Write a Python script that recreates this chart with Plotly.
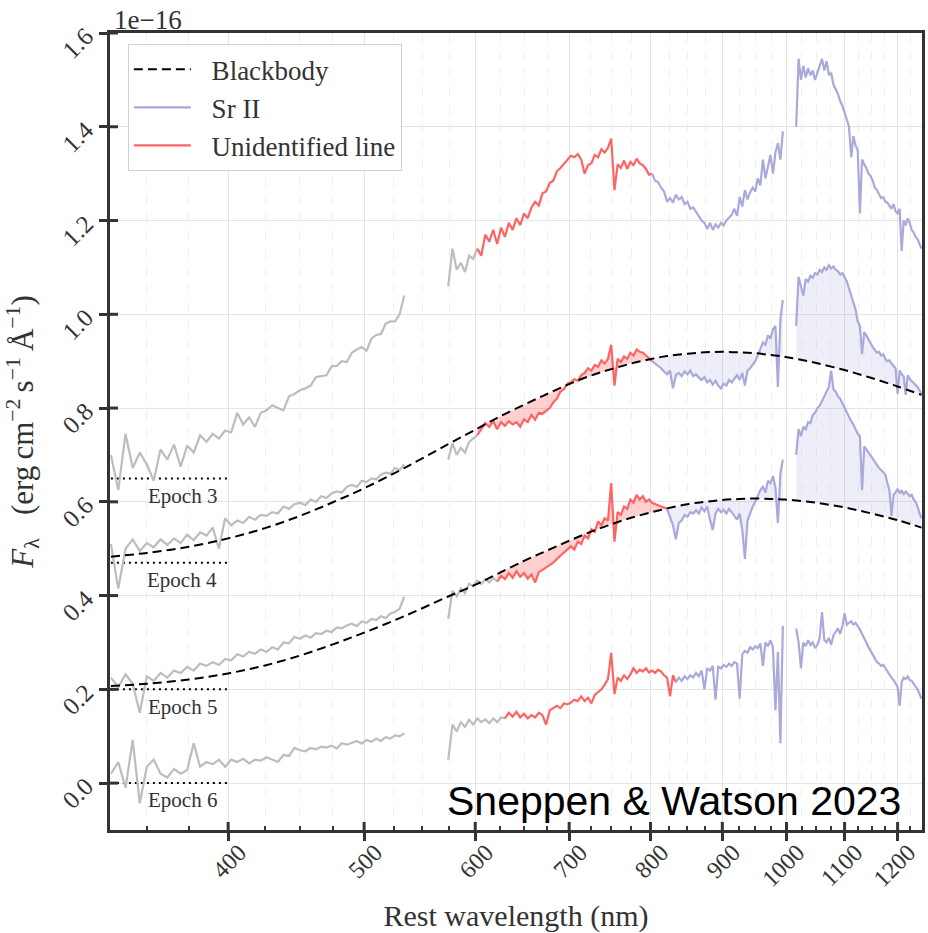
import math
import plotly.graph_objects as go

# ---------------- data ----------------
STEP = 4                      # nm sampling of the spectra
UV_START, VIS_START, IR_START = 330, 574, 1016

EPOCH_NAMES = ["Epoch 3", "Epoch 4", "Epoch 5", "Epoch 6"]
EPOCH_BASE = [0.65, 0.47, 0.20, 0.00]          # dotted zero levels (offsets)
RED_START = [600, 600, 620, 630]               # start of "unidentified line" region
RED_END = [800, 800, 821, 831]                 # start of Sr II region
DOTTED_WL = [330, 400]
LABEL_WL = 371

# Epoch 3
E3_UV = [0.700, 0.625, 0.745, 0.672, 0.705, 0.680, 0.645, 0.712, 0.690, 0.722, 0.675, 0.720,
         0.705, 0.742, 0.728, 0.745, 0.735, 0.752, 0.748, 0.790, 0.765, 0.780, 0.760, 0.790,
         0.795, 0.806, 0.800, 0.795, 0.825, 0.830, 0.838, 0.842, 0.848, 0.866, 0.868, 0.870,
         0.889, 0.890, 0.900, 0.898, 0.918, 0.925, 0.930, 0.922, 0.948, 0.956, 0.958, 0.980,
         0.985, 0.985, 1.000, 1.040]
E3_VIS = [1.060, 1.140, 1.095, 1.110, 1.090, 1.125, 1.118,
          1.140, 1.125, 1.170, 1.155, 1.180, 1.150, 1.185, 1.165, 1.195, 1.180, 1.205, 1.190, 1.215,
          1.205, 1.228, 1.240, 1.232, 1.258, 1.262, 1.280, 1.285, 1.305, 1.312, 1.320, 1.330,
          1.338, 1.335, 1.342, 1.330, 1.300, 1.318, 1.322, 1.340, 1.335, 1.352, 1.345, 1.355, 1.375,
          1.265, 1.320, 1.312, 1.328, 1.310, 1.325, 1.318, 1.332, 1.322, 1.318, 1.310, 1.298,
          1.300, 1.285, 1.282, 1.270, 1.262, 1.240, 1.248, 1.238, 1.255, 1.245, 1.250, 1.235, 1.240,
          1.225, 1.228, 1.218, 1.210, 1.200, 1.195, 1.182, 1.195, 1.180, 1.192, 1.185, 1.195,
          1.190, 1.200, 1.205, 1.212, 1.225, 1.210, 1.250, 1.230, 1.265, 1.245, 1.260, 1.270,
          1.262, 1.290, 1.275, 1.330, 1.290, 1.315, 1.340, 1.300, 1.345, 1.365, 1.330, 1.390]
E3_IR = [1.400, 1.545, 1.500, 1.530, 1.505, 1.525, 1.510, 1.520, 1.500,
         1.515, 1.530, 1.545, 1.520, 1.540, 1.510, 1.515, 1.490, 1.480, 1.470, 1.455, 1.445, 1.430,
         1.415, 1.400, 1.335, 1.380, 1.360, 1.350, 1.215, 1.330, 1.320, 1.312, 1.300, 1.295,
         1.285, 1.270, 1.265, 1.255, 1.248, 1.250, 1.240, 1.238, 1.232, 1.225, 1.235, 1.220, 1.215,
         1.225, 1.135, 1.200, 1.190, 1.205, 1.195, 1.180, 1.175, 1.165, 1.160, 1.150, 1.140]

# Epoch 4
E4_UV = [0.510, 0.415, 0.500, 0.520, 0.495, 0.512, 0.503, 0.520, 0.508, 0.522, 0.512, 0.530,
         0.518, 0.535, 0.528, 0.545, 0.500, 0.565, 0.550, 0.560, 0.555, 0.568, 0.562, 0.572,
         0.570, 0.578, 0.575, 0.590, 0.585, 0.595, 0.598, 0.593, 0.605, 0.600, 0.612, 0.608,
         0.618, 0.622, 0.620, 0.632, 0.636, 0.632, 0.645, 0.642, 0.650, 0.648, 0.658, 0.662,
         0.660, 0.672, 0.668, 0.680]
E4_VIS = [0.690, 0.725, 0.700, 0.715, 0.705, 0.728, 0.735,
          0.742, 0.755, 0.768, 0.760, 0.772, 0.755, 0.770, 0.762, 0.772, 0.765, 0.770, 0.760, 0.776,
          0.770, 0.785, 0.775, 0.790, 0.788, 0.795, 0.800, 0.812, 0.820, 0.835, 0.840, 0.852,
          0.855, 0.862, 0.858, 0.870, 0.875, 0.885, 0.880, 0.892, 0.888, 0.902, 0.895, 0.905, 0.935,
          0.848, 0.905, 0.898, 0.910, 0.905, 0.918, 0.912, 0.925, 0.920, 0.918, 0.912, 0.905,
          0.900, 0.895, 0.890, 0.885, 0.878, 0.872, 0.880, 0.842, 0.870, 0.875, 0.868, 0.878, 0.872,
          0.880, 0.868, 0.872, 0.865, 0.860, 0.866, 0.855, 0.860, 0.850, 0.858, 0.848, 0.842,
          0.852, 0.848, 0.860, 0.855, 0.862, 0.870, 0.860, 0.875, 0.848, 0.880, 0.885, 0.892,
          0.900, 0.912, 0.925, 0.940, 0.935, 0.955, 0.948, 0.968, 0.975, 0.845, 0.990, 1.030]
E4_IR = [0.975, 1.080, 1.060, 1.040, 1.075, 1.070, 1.082, 1.078, 1.088,
         1.085, 1.095, 1.090, 1.100, 1.095, 1.105, 1.098, 1.102, 1.095, 1.092, 1.085, 1.088, 1.078,
         1.070, 1.055, 1.040, 1.025, 1.010, 0.985, 0.975, 0.915, 0.962, 0.955, 0.945, 0.938,
         0.930, 0.925, 0.918, 0.920, 0.912, 0.915, 0.905, 0.900, 0.902, 0.895, 0.890, 0.885, 0.830,
         0.880, 0.872, 0.868, 0.828, 0.870, 0.862, 0.858, 0.855, 0.850, 0.845, 0.838, 0.830]

# Epoch 5
E5_UV = [0.225, 0.205, 0.232, 0.212, 0.150, 0.228, 0.218, 0.235, 0.225, 0.240, 0.235, 0.248,
         0.240, 0.255, 0.250, 0.258, 0.252, 0.265, 0.262, 0.275, 0.270, 0.280, 0.276, 0.285,
         0.280, 0.290, 0.285, 0.300, 0.298, 0.312, 0.308, 0.315, 0.310, 0.320, 0.318, 0.325,
         0.322, 0.332, 0.330, 0.336, 0.340, 0.335, 0.345, 0.342, 0.350, 0.348, 0.356, 0.352,
         0.362, 0.365, 0.372, 0.398]
E5_VIS = [0.350, 0.410, 0.398, 0.415, 0.405, 0.425, 0.420,
          0.432, 0.425, 0.435, 0.428, 0.438, 0.430, 0.442, 0.435, 0.448, 0.438, 0.452, 0.440, 0.448,
          0.436, 0.445, 0.428, 0.450, 0.455, 0.460, 0.465, 0.470, 0.478, 0.485, 0.492, 0.498,
          0.505, 0.498, 0.515, 0.510, 0.528, 0.522, 0.542, 0.536, 0.558, 0.550, 0.565, 0.560, 0.640,
          0.515, 0.578, 0.572, 0.590, 0.585, 0.605, 0.598, 0.615, 0.605, 0.612, 0.600, 0.605,
          0.598, 0.595, 0.592, 0.590, 0.588, 0.585, 0.565, 0.550, 0.520, 0.555, 0.560, 0.572, 0.568,
          0.578, 0.575, 0.582, 0.575, 0.588, 0.580, 0.590, 0.562, 0.540, 0.575, 0.585, 0.578,
          0.583, 0.575, 0.585, 0.578, 0.570, 0.562, 0.575, 0.540, 0.478, 0.560, 0.575, 0.590,
          0.600, 0.612, 0.625, 0.632, 0.620, 0.645, 0.640, 0.655, 0.630, 0.555, 0.660, 0.690]
E5_IR = [0.700, 0.755, 0.740, 0.760, 0.755, 0.770, 0.768, 0.785, 0.790,
         0.800, 0.805, 0.815, 0.822, 0.835, 0.845, 0.880, 0.840, 0.835, 0.825, 0.820, 0.810, 0.800,
         0.792, 0.780, 0.772, 0.765, 0.755, 0.745, 0.740, 0.625, 0.718, 0.712, 0.705, 0.698,
         0.692, 0.685, 0.678, 0.672, 0.668, 0.662, 0.658, 0.640, 0.625, 0.570, 0.615, 0.620, 0.628,
         0.618, 0.625, 0.615, 0.622, 0.618, 0.612, 0.615, 0.605, 0.600, 0.590, 0.575, 0.565]

# Epoch 6
E6_UV = [0.020, 0.045, -0.010, 0.092, -0.043, 0.035, 0.050, 0.020, 0.012, 0.030, 0.020, 0.028,
         0.085, 0.035, 0.045, 0.040, 0.050, 0.035, 0.050, 0.045, 0.052, 0.042, 0.050, 0.048,
         0.055, 0.050, 0.045, 0.060, 0.058, 0.075, 0.070, 0.068, 0.075, 0.072, 0.078, 0.076,
         0.080, 0.074, 0.085, 0.082, 0.086, 0.090, 0.084, 0.092, 0.088, 0.095, 0.090, 0.098,
         0.095, 0.102, 0.100, 0.106]
E6_VIS = [0.050, 0.125, 0.110, 0.130, 0.120, 0.135, 0.125,
          0.138, 0.130, 0.136, 0.128, 0.138, 0.130, 0.140, 0.138, 0.150, 0.142, 0.152, 0.140, 0.148,
          0.138, 0.145, 0.140, 0.150, 0.145, 0.125, 0.155, 0.160, 0.165, 0.160, 0.170, 0.168,
          0.172, 0.178, 0.175, 0.185, 0.175, 0.182, 0.170, 0.188, 0.195, 0.200, 0.210, 0.222, 0.278,
          0.190, 0.225, 0.218, 0.230, 0.222, 0.232, 0.245, 0.235, 0.242, 0.238, 0.245, 0.236,
          0.240, 0.235, 0.242, 0.238, 0.230, 0.225, 0.185, 0.230, 0.215, 0.225, 0.218, 0.228, 0.222,
          0.230, 0.225, 0.235, 0.228, 0.240, 0.200, 0.245, 0.240, 0.250, 0.178, 0.248, 0.245,
          0.252, 0.248, 0.255, 0.250, 0.258, 0.255, 0.180, 0.275, 0.282, 0.278, 0.290, 0.285,
          0.292, 0.288, 0.298, 0.250, 0.300, 0.292, 0.305, 0.290, 0.155, 0.280, 0.085, 0.335]
E6_IR = [0.330, 0.300, 0.245, 0.300, 0.292, 0.305, 0.295, 0.300, 0.288,
         0.295, 0.310, 0.365, 0.305, 0.300, 0.310, 0.295, 0.315, 0.322, 0.330, 0.318, 0.335, 0.362,
         0.338, 0.342, 0.345, 0.338, 0.342, 0.335, 0.328, 0.318, 0.310, 0.300, 0.290, 0.282,
         0.275, 0.265, 0.258, 0.255, 0.250, 0.252, 0.245, 0.238, 0.230, 0.225, 0.220, 0.212, 0.205,
         0.165, 0.215, 0.225, 0.222, 0.228, 0.220, 0.218, 0.212, 0.208, 0.200, 0.190, 0.180]

# Blackbody curves (epochs 4 and 5)
BB_WL = [330, 350, 375, 400, 425, 450, 475, 500, 534, 574,
         602, 622, 650, 675, 700, 725, 750, 775, 802, 822,
         850, 875, 900, 925, 950, 975, 994, 1016, 1050, 1100,
         1150, 1200, 1248]
BB4 = [0.483, 0.491, 0.504, 0.522, 0.544, 0.570, 0.599, 0.629, 0.672, 0.723,
       0.756, 0.779, 0.807, 0.830, 0.851, 0.869, 0.883, 0.895, 0.905, 0.911,
       0.916, 0.919, 0.920, 0.919, 0.917, 0.913, 0.910, 0.905, 0.896, 0.881,
       0.864, 0.846, 0.828]
BB5 = [0.207, 0.212, 0.221, 0.234, 0.251, 0.272, 0.296, 0.321, 0.356, 0.398,
       0.425, 0.446, 0.474, 0.496, 0.517, 0.536, 0.552, 0.566, 0.578, 0.586,
       0.595, 0.600, 0.604, 0.606, 0.607, 0.606, 0.605, 0.603, 0.598, 0.588,
       0.575, 0.561, 0.545]

X_TICKS = [400, 500, 600, 700, 800, 900, 1000, 1100, 1200]
X_MINOR = [350, 375, 425, 450, 475, 525, 550, 575, 625, 650, 675, 725, 750, 775,
           825, 850, 875, 925, 950, 975, 1025, 1050, 1075, 1125, 1150, 1175, 1225]
Y_TICKS = [0.0, 0.2, 0.4, 0.6, 0.8, 1.0, 1.2, 1.4, 1.6]
X_RANGE = [329.5, 1249]
Y_RANGE = [-0.1, 1.6]

# ---------------- styling ----------------
GRAY = "#bdbdbd"
RED = "#ff6464"
LAV = "#a9a9db"
RED_FILL = "rgba(255,100,100,0.30)"
LAV_FILL = "rgba(170,170,220,0.20)"
AX = "#333333"
SERIF = "Liberation Serif, Times New Roman, serif"
PAD = "\u00a0\u00a0\u200a"


def grid(start, n):
    return [start + STEP * i for i in range(n)]


def first_at_least(wl, v):
    return next(i for i, w in enumerate(wl) if w >= v)


def band(wl, fl, bbv):
    lo, hi = wl[0], wl[-1]
    knots = [(w, b) for w, b in zip(BB_WL, bbv) if lo <= w <= hi]
    knots.reverse()
    return wl + [k[0] for k in knots], fl + [k[1] for k in knots]


epochs = [
    (E3_UV, E3_VIS, E3_IR, None),
    (E4_UV, E4_VIS, E4_IR, BB4),
    (E5_UV, E5_VIS, E5_IR, BB5),
    (E6_UV, E6_VIS, E6_IR, None),
]

fig = go.Figure()

segments = []
for k, (uv, vis, ir, bbv) in enumerate(epochs):
    wl_uv = grid(UV_START, len(uv))
    wl_vis = grid(VIS_START, len(vis))
    wl_ir = grid(IR_START, len(ir))
    i0 = first_at_least(wl_vis, RED_START[k])
    i1 = first_at_least(wl_vis, RED_END[k])
    segments.append(dict(
        uv=(wl_uv, uv),
        gray=(wl_vis[:i0 + 1], vis[:i0 + 1]),
        red=(wl_vis[i0:i1 + 1], vis[i0:i1 + 1]),
        lav=(wl_vis[i1:], vis[i1:]),
        ir=(wl_ir, ir),
        bb=bbv,
    ))

# shaded regions between spectrum and blackbody
for seg in segments:
    if seg["bb"] is None:
        continue
    for key, col in (("red", RED_FILL), ("lav", LAV_FILL), ("ir", LAV_FILL)):
        wl, fl = seg[key]
        px, py = band(list(wl), list(fl), seg["bb"])
        fig.add_trace(go.Scatter(x=px, y=py, fill="toself", fillcolor=col, mode="lines",
                                 line=dict(width=0), hoverinfo="skip", showlegend=False))

# dotted zero levels
for base in EPOCH_BASE:
    fig.add_trace(go.Scatter(x=DOTTED_WL, y=[base, base], mode="lines",
                             line=dict(color="black", width=2, dash="2px,4px"),
                             hoverinfo="skip", showlegend=False))

# spectra
for k, seg in enumerate(segments):
    first = (k == 0)
    for key, col in (("uv", GRAY), ("gray", GRAY), ("red", RED), ("lav", LAV), ("ir", LAV)):
        wl, fl = seg[key]
        show = first and key in ("red", "lav")
        name = {"red": PAD + "Unidentified line", "lav": PAD + "Sr II"}.get(key, "")
        fig.add_trace(go.Scatter(x=wl, y=fl, mode="lines", line=dict(color=col, width=2.2),
                                 name=name, showlegend=show,
                                 legendrank=3 if key == "red" else 2))

# blackbody curves
for j, bbv in enumerate((BB4, BB5)):
    fig.add_trace(go.Scatter(x=BB_WL, y=bbv, mode="lines",
                             line=dict(color="black", width=2, dash="9px,5px", shape="spline"),
                             name=PAD + "Blackbody", showlegend=(j == 0), legendrank=1))

annotations = []
for name, base in zip(EPOCH_NAMES, EPOCH_BASE):
    annotations.append(dict(x=math.log10(LABEL_WL), y=base - 0.037, xref="x", yref="y",
                            text=name, showarrow=False, font=dict(family=SERIF, size=21, color=AX)))
annotations.append(dict(x=0.002, y=1.0, xref="paper", yref="paper", xanchor="left", yanchor="bottom",
                        text="1e\u221216", showarrow=False, yshift=-4,
                        font=dict(family=SERIF, size=27, color=AX)))
annotations.append(dict(x=0.977, y=0.037, xref="paper", yref="paper", xanchor="right", yanchor="middle",
                        text="Sneppen & Watson 2023", showarrow=False,
                        font=dict(family="Liberation Sans, Arial, sans-serif", size=41, color="black")))

# major ticks cross the axis line: add inner halves
shapes = []
for v in X_TICKS:
    shapes.append(dict(type="line", xref="x", yref="paper", x0=v, x1=v, ysizemode="pixel",
                       yanchor=0, y0=0, y1=8, line=dict(color=AX, width=3)))
for v in Y_TICKS:
    shapes.append(dict(type="line", xref="paper", yref="y", y0=v, y1=v, xsizemode="pixel",
                       xanchor=0, x0=0, x1=8, line=dict(color=AX, width=3)))

fig.update_layout(
    width=928, height=933,
    margin=dict(l=110, r=6, t=33, b=103),
    paper_bgcolor="white", plot_bgcolor="white",
    font=dict(family=SERIF, size=24, color=AX),
    showlegend=True,
    legend=dict(x=0.022, y=0.986, xanchor="left", yanchor="top", bgcolor="white",
                bordercolor="#d0d0d0", borderwidth=1, font=dict(family=SERIF, size=27, color=AX),
                itemwidth=57, traceorder="normal"),
    xaxis=dict(type="log", range=[math.log10(X_RANGE[0]), math.log10(X_RANGE[1])],
               automargin=False,
               tickmode="array", tickvals=X_TICKS, ticktext=[str(v) for v in X_TICKS],
               tickangle=-45, ticks="outside", ticklen=8, tickwidth=3, tickcolor=AX,
               ticklabelshift=11, ticklabelstandoff=-12,
               showline=True, linewidth=3, linecolor=AX, mirror=True,
               showgrid=True, gridcolor="#e4e4e4", gridwidth=1, zeroline=False,
               tickfont=dict(family=SERIF, size=24, color=AX),
               title=dict(text="Rest wavelength (nm)", font=dict(family=SERIF, size=30, color=AX)),
               minor=dict(tickmode="array", tickvals=X_MINOR, ticks="inside", ticklen=4,
                          tickwidth=1.5, tickcolor=AX, showgrid=True, gridcolor="#efefef",
                          griddash="dash", gridwidth=1)),
    yaxis=dict(range=Y_RANGE, tickmode="array", tickvals=Y_TICKS, automargin=False,
               ticktext=[f"{v:.1f}" for v in Y_TICKS], tickangle=-45,
               ticks="outside", ticklen=8, tickwidth=3, tickcolor=AX, ticklabelstandoff=8,
               showline=True, linewidth=3, linecolor=AX, mirror=True,
               showgrid=True, gridcolor="#e4e4e4", gridwidth=1, zeroline=False,
               tickfont=dict(family=SERIF, size=25, color=AX),
               title=dict(text="<i>F</i><sub>\u03bb</sub>\u00a0\u00a0\u00a0(erg\u2009cm<sup>\u22122</sup>\u2009s<sup>\u22121</sup>\u2009\u00c5<sup>\u22121</sup>)",
                          font=dict(family=SERIF, size=31, color=AX))),
    annotations=annotations,
    shapes=shapes,
)

fig.write_html("out.html")
